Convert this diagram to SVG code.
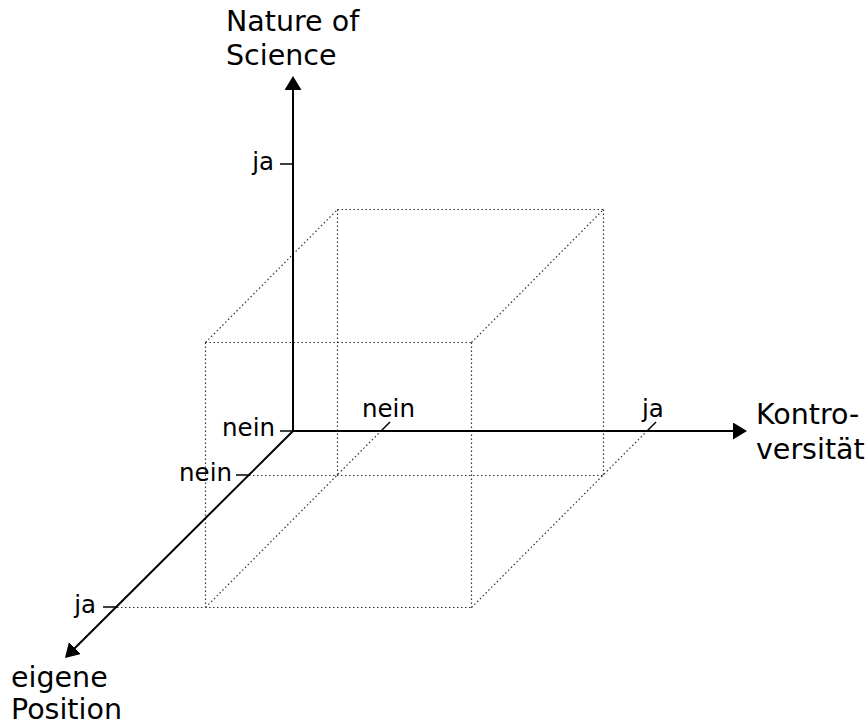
<svg xmlns="http://www.w3.org/2000/svg" width="865" height="724" viewBox="0 0 865 724">
<style>
.ax{stroke:#000;stroke-width:2;fill:none}
.tk{stroke:#000;stroke-width:1.5;fill:none}
.dt{stroke:#333;stroke-width:1.2;fill:none;stroke-dasharray:1.5 2.5}
.big{font-family:"DejaVu Sans",Verdana,sans-serif;font-size:28.5px;fill:#000}
.sm{font-family:"DejaVu Sans",Verdana,sans-serif;font-size:24.5px;fill:#000}
</style>
<defs>
<marker id="arr" markerUnits="userSpaceOnUse" markerWidth="16" markerHeight="18" refX="1" refY="8.5" orient="auto" viewBox="0 0 16 18">
<path d="M0,0 L14,8.5 L0,17 z" fill="#000"/>
</marker>
</defs>
<g id="cube">
<line class="dt" x1="337.5" y1="209.5" x2="603.5" y2="209.5"/>
<line class="dt" x1="337.5" y1="209.5" x2="337.5" y2="475.5"/>
<line class="dt" x1="603.5" y1="209.5" x2="603.5" y2="475.5"/>
<line class="dt" x1="249" y1="475.5" x2="603.5" y2="475.5"/>
<line class="dt" x1="205.5" y1="342.5" x2="471.5" y2="342.5"/>
<line class="dt" x1="205.5" y1="342.5" x2="205.5" y2="607.5"/>
<line class="dt" x1="471.5" y1="342.5" x2="471.5" y2="607.5"/>
<line class="dt" x1="117" y1="607.5" x2="471.5" y2="607.5"/>
<line class="dt" x1="205.5" y1="342.5" x2="337.5" y2="209.5"/>
<line class="dt" x1="471.5" y1="342.5" x2="603.5" y2="209.5"/>
<line class="dt" x1="205.5" y1="607.5" x2="381" y2="431"/>
<line class="dt" x1="471.5" y1="607.5" x2="647" y2="431"/>
</g>
<g id="connectors">
<line class="ax" x1="293" y1="432" x2="293" y2="89" marker-end="url(#arr)"/>
<line class="ax" x1="292" y1="431" x2="734" y2="431" marker-end="url(#arr)"/>
<line class="ax" x1="293" y1="431" x2="74.2" y2="648.8" marker-end="url(#arr)"/>
<line class="tk" x1="280" y1="164" x2="293" y2="164"/>
<line class="tk" x1="280" y1="431" x2="293" y2="431"/>
<line class="tk" x1="236" y1="475" x2="249" y2="475"/>
<line class="tk" x1="103" y1="607" x2="117" y2="607"/>
<line class="tk" x1="381" y1="431" x2="390" y2="422"/>
<line class="tk" x1="647" y1="431" x2="656" y2="422"/>
</g>
<g id="axis-y">
<text class="big" x="226" y="31">Nature of</text>
<text class="big" x="226" y="65">Science</text>
<text class="sm" x="274" y="170" text-anchor="end">ja</text>
<text class="sm" x="275" y="436" text-anchor="end">nein</text>
</g>
<g id="axis-x">
<text class="big" x="756" y="424">Kontro-</text>
<text class="big" x="756" y="459">versität</text>
<text class="sm" x="362" y="417">nein</text>
<text class="sm" x="642" y="417">ja</text>
</g>
<g id="axis-z">
<text class="big" x="11" y="687">eigene</text>
<text class="big" x="11" y="719">Position</text>
<text class="sm" x="232" y="481" text-anchor="end">nein</text>
<text class="sm" x="96" y="613" text-anchor="end">ja</text>
</g>
</svg>
